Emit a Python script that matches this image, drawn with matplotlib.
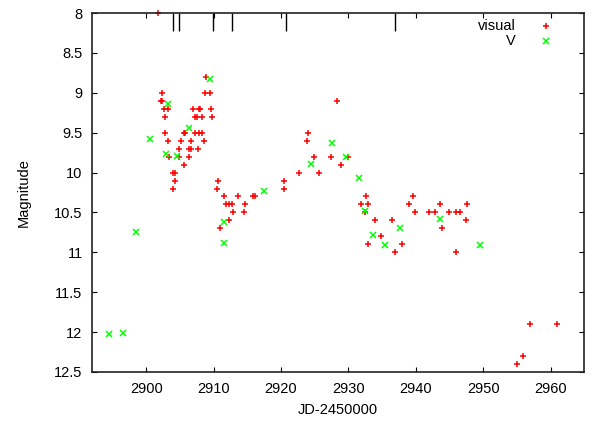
import numpy as np
import matplotlib.pyplot as plt

plt.rcParams['font.family'] = ['Liberation Sans', 'DejaVu Sans']

# visual estimates (JD-2450000, magnitude)
visual_jd = [2901.8, 2908.8,
             2902.3, 2908.7, 2909.5,
             2902.2, 2902.4, 2928.3,
             2902.7, 2903.2, 2906.9, 2907.8, 2908.0, 2909.6,
             2902.8, 2907.2, 2907.6, 2908.3, 2909.8,
             2902.8, 2905.6, 2905.8, 2907.3, 2907.8, 2908.3, 2924.0,
             2903.2, 2905.2, 2906.6, 2908.6, 2923.9,
             2904.9, 2906.3, 2906.7, 2907.7,
             2903.4, 2904.9, 2906.4, 2924.9, 2927.4, 2929.9,
             2905.6, 2928.9,
             2904.0, 2904.3, 2922.6, 2925.6,
             2904.2, 2910.6, 2920.5,
             2903.9, 2910.5, 2920.5,
             2911.6, 2913.6, 2915.8, 2916.2, 2932.6, 2939.6,
             2911.9, 2912.3, 2912.7, 2914.6, 2931.9, 2932.9, 2939.0, 2943.6, 2947.6,
             2912.9, 2914.5, 2932.4, 2939.9, 2942.0, 2942.9, 2944.9, 2945.9, 2946.5,
             2912.3, 2934.0, 2936.5, 2947.5,
             2910.9, 2943.9,
             2934.9,
             2932.9, 2937.9,
             2936.9, 2945.9,
             2956.9, 2961.0,
             2955.9,
             2955.0]
visual_mag = [8.0, 8.8,
              9.0, 9.0, 9.0,
              9.1, 9.1, 9.1,
              9.2, 9.2, 9.2, 9.2, 9.2, 9.2,
              9.3, 9.3, 9.3, 9.3, 9.3,
              9.5, 9.5, 9.5, 9.5, 9.5, 9.5, 9.5,
              9.6, 9.6, 9.6, 9.6, 9.6,
              9.7, 9.7, 9.7, 9.7,
              9.8, 9.8, 9.8, 9.8, 9.8, 9.8,
              9.9, 9.9,
              10.0, 10.0, 10.0, 10.0,
              10.1, 10.1, 10.1,
              10.2, 10.2, 10.2,
              10.3, 10.3, 10.3, 10.3, 10.3, 10.3,
              10.4, 10.4, 10.4, 10.4, 10.4, 10.4, 10.4, 10.4, 10.4,
              10.5, 10.5, 10.5, 10.5, 10.5, 10.5, 10.5, 10.5, 10.5,
              10.6, 10.6, 10.6, 10.6,
              10.7, 10.7,
              10.8,
              10.9, 10.9,
              11.0, 11.0,
              11.9, 11.9,
              12.3,
              12.4]

# V band photometry
v_jd = [2894.5, 2896.5, 2898.5, 2900.5, 2903.0, 2903.2, 2904.5, 2906.4,
        2909.5, 2911.5, 2911.5, 2917.5, 2924.5, 2927.5, 2929.6, 2931.5,
        2932.4, 2933.6, 2935.5, 2937.6, 2943.6, 2949.5]
v_mag = [12.02, 12.01, 10.74, 9.58, 9.77, 9.14, 9.79, 9.44,
         8.83, 10.62, 10.88, 10.23, 9.89, 9.63, 9.80, 10.07,
         10.48, 10.78, 10.91, 10.69, 10.58, 10.91]

# epochs marked along the top axis
spec_jd = [2903.95, 2904.85, 2909.85, 2912.8, 2920.8, 2936.9]

fig = plt.figure(figsize=(5.94, 4.21), dpi=100)
ax = fig.add_axes([0.1554, 0.1164, 0.8283, 0.8527])

ax.plot(visual_jd, visual_mag, '+', color='#ff0000', ms=5, mew=1.1, clip_on=False)
ax.plot(v_jd, v_mag, 'x', color='#00ff00', ms=4.3, mew=1.1)
ax.vlines(spec_jd, 8.0, 8.225, color='black', lw=1.0)

ax.set_xlim(2892, 2965)
ax.set_ylim(12.5, 8)
ax.set_xticks(np.arange(2900, 2961, 10))
ax.set_yticks(np.arange(8, 12.51, 0.5))
ax.set_yticklabels(['8', '8.5', '9', '9.5', '10', '10.5', '11', '11.5', '12', '12.5'])
ax.tick_params(direction='in', length=3.6, width=0.8, top=True, right=True,
               labelsize=10.5, colors='black')
ax.tick_params(axis='x', pad=7)
ax.tick_params(axis='y', pad=7)
for sp in ax.spines.values():
    sp.set_linewidth(1.2)
    sp.set_color('#222222')

ax.set_xlabel('JD-2450000', fontsize=10.5, labelpad=5)
ax.set_ylabel('Magnitude', fontsize=10.5, labelpad=17)

# key, gnuplot style (text right of marker column)
ax.text(0.861, 0.9646, 'visual', transform=ax.transAxes, ha='right', va='center', fontsize=10.5)
ax.text(0.861, 0.9228, 'V', transform=ax.transAxes, ha='right', va='center', fontsize=10.5)
ax.plot([0.922], [0.9646], '+', color='#ff0000', ms=5, mew=1.1, transform=ax.transAxes)
ax.plot([0.922], [0.9228], 'x', color='#00ff00', ms=4.3, mew=1.1, transform=ax.transAxes)

fig.savefig('out.png', dpi=100)
